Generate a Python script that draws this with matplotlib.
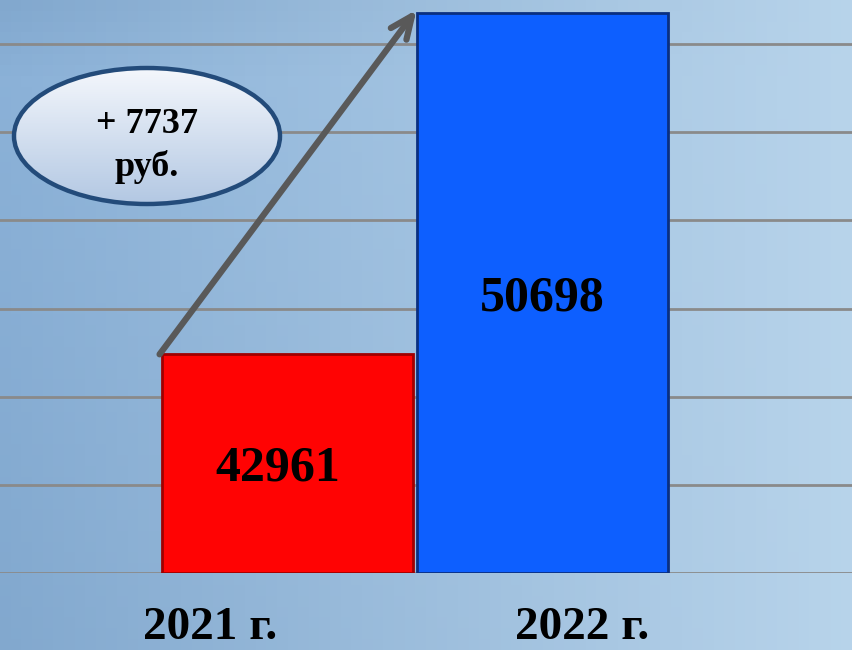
import numpy as np
import matplotlib.pyplot as plt
from matplotlib.patches import Ellipse
from matplotlib.colors import LinearSegmentedColormap

years = ['2021 г.', '2022 г.']
values = [42961, 50698]
bar_colors = ['#ff0303', '#0d5fff']
edge_colors = ['#a00000', '#0a2f80']
delta_text = '+ 7737\nруб.'

y_min, y_max, y_step = 38000, 51000, 2000

fig = plt.figure(figsize=(8.52, 6.5), dpi=100)

# background gradient
bg = fig.add_axes([0, 0, 1, 1], zorder=0)
bg.axis('off')
h, w = 60, 80
yy, xx = np.mgrid[0:1:h * 1j, 0:1:w * 1j]
left = np.array([0.55, 0.70, 0.85])
right = np.array([0.72, 0.83, 0.92])
img = left[None, None, :] * (1 - xx[..., None]) + right[None, None, :] * xx[..., None]
img = img - 0.04 * yy[..., None] * (1 - xx[..., None])
img[:8] -= np.linspace(0.04, 0, 8)[:, None, None] * (1 - xx[:8, :, None])
bg.imshow(np.clip(img, 0, 1), aspect='auto', extent=[0, 1, 0, 1], origin='upper')
bg.set_xlim(0, 1)
bg.set_ylim(0, 1)

ax = fig.add_axes([0, 77 / 650, 1, 573 / 650], zorder=1)
ax.patch.set_alpha(0)
x = np.arange(len(values))
ax.set_xlim(-1.13, 2.218)
ax.set_ylim(y_min, y_max)
for g in range(y_min, y_max, y_step):
    ax.axhline(g, color='#8a8a8a', lw=2, zorder=1)

bw = 0.986
bars = ax.bar(x, [v - y_min for v in values], bottom=y_min, width=bw,
              color=bar_colors, edgecolor=edge_colors, linewidth=2, zorder=3)

for xi, v, dx in zip(x, values, [-0.04, 0.0]):
    ax.text(xi + dx, (y_min + v) / 2 - 110, str(v), ha='center', va='center',
            fontsize=36, fontweight='bold', family='Liberation Serif', zorder=5)

# growth arrow
tail = (x[0] - bw / 2 - 0.01, values[0])
head = (x[1] - bw / 2, values[1] + 80)
ax.annotate('', xy=head, xytext=tail,
            arrowprops=dict(arrowstyle='->,head_length=1.6,head_width=0.7', color='#595959',
                            lw=4.5, shrinkA=0, shrinkB=0, capstyle='round', joinstyle='round'),
            zorder=4)
ax.axis('off')

# ellipse label in figure pixels
ov = fig.add_axes([0, 0, 1, 1], zorder=2)
ov.set_xlim(0, 852)
ov.set_ylim(650, 0)
ov.axis('off')
cx, cy, ew, eh = 147, 136, 266, 136
cmap = LinearSegmentedColormap.from_list('ell', ['#f4f7fc', '#b3c8e3'])
grad = np.linspace(0, 1, 100)[:, None] * np.ones((1, 10))
im = ov.imshow(grad, cmap=cmap, extent=[cx - ew / 2, cx + ew / 2, cy + eh / 2, cy - eh / 2],
               aspect='auto', zorder=2)
clip = Ellipse((cx, cy), ew, eh, transform=ov.transData, facecolor='none', edgecolor='none')
ov.add_patch(clip)
im.set_clip_path(clip)
ov.add_patch(Ellipse((cx, cy), ew, eh, facecolor='none', edgecolor='#234b7a', lw=3.2, zorder=3))
ov.text(cx, cy + 10, delta_text, ha='center', va='center', fontsize=26, fontweight='bold',
        family='Liberation Serif', linespacing=1.35, zorder=4)
ov.set_xlim(0, 852)
ov.set_ylim(650, 0)

# year labels
for label, px in zip(years, [210, 582]):
    fig.text(px / 852, 11 / 650, label, ha='center', va='baseline', fontsize=34,
             fontweight='bold', family='Liberation Serif', zorder=5)

fig.savefig('out.png', dpi=100)
